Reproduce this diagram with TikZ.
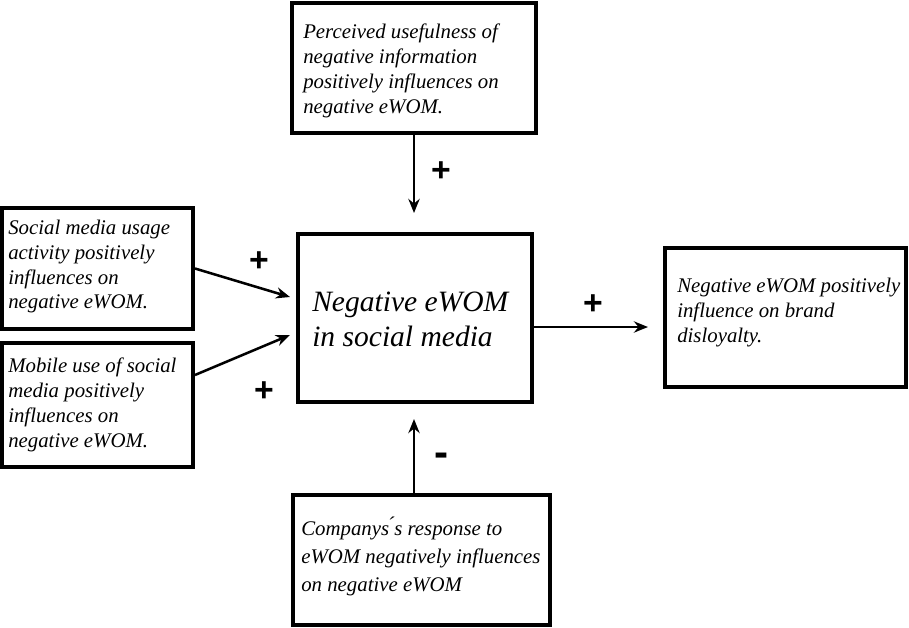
\documentclass[tikz,border=0pt]{standalone}
\usepackage{fontspec}
\setmainfont{Liberation Serif}
\newfontfamily\signfont{Liberation Sans}
\usetikzlibrary{arrows.meta, calc}
\tikzstyle{box} = [draw, line width=2.8pt, rectangle, inner sep=0pt]
\tikzstyle{txt} = [anchor=north west, inner sep=0pt, align=left, font=\fontsize{14.8}{17.6}\selectfont\itshape]
\tikzstyle{effect} = [line width=1.8pt, -{Stealth[length=10pt,width=8pt]}]
\tikzstyle{sign} = [font=\signfont\bfseries\fontsize{24}{24}\selectfont]

\begin{document}
\begin{tikzpicture}[x=0.025cm, y=-0.025cm]
\useasboundingbox (0,0) rectangle (909,627);
% boxes
\node[box, minimum width=6.1cm, minimum height=3.25cm] (useful) at (414,68) {};
\node[box, minimum width=4.775cm, minimum height=3.025cm] (usage) at (97.5,268.5) {};
\node[box, minimum width=4.775cm, minimum height=3.1cm] (mobile) at (97.5,405) {};
\node[box, minimum width=5.85cm, minimum height=4.2cm] (ewom) at (415,318) {};
\node[box, minimum width=6.025cm, minimum height=3.475cm] (disloyal) at (785.5,317.5) {};
\node[box, minimum width=6.425cm, minimum height=3.25cm] (response) at (421.5,560) {};
% texts
\node[txt] (usefultxt) at (303,24) {Perceived usefulness of\\negative information\\positively influences on\\negative eWOM.};
\node[txt] (usagetxt) at (8,220) {Social media usage\\activity positively\\influences on\\negative eWOM.};
\node[txt] (mobiletxt) at (8,358) {Mobile use of social\\media positively\\influences on\\negative eWOM.};
\node[txt, font=\fontsize{21}{25}\selectfont\itshape] (ewomtxt) at (312,292) {Negative eWOM\\in social media};
\node[txt] (disloyaltxt) at (677,278) {Negative eWOM positively\\influence on brand\\disloyalty.};
\node[txt, font=\fontsize{14.8}{19.8}\selectfont\itshape] (responsetxt) at (301,517) {Companys\'{}s response to\\eWOM negatively influences\\on negative eWOM};
% connectors
\coordinate (inA) at (290,297);
\coordinate (inB) at (290,335);
\coordinate (outR) at (648,327);
\draw[effect, shorten >=0.475cm] (useful.south) -- (useful.south |- ewom.north);
\draw[effect] (usage.east) -- (inA);
\draw[effect] ([yshift=0.75cm]mobile.east) -- (inB);
\draw[effect] (ewom.east |- outR) -- (outR);
\draw[effect, shorten >=0.375cm] (response.north -| useful.south) -- (ewom.south -| useful.south);
% signs
\node[sign] (p1) at (441,172) {+};
\node[sign] (p2) at (259,262) {+};
\node[sign] (p3) at (264,392) {+};
\node[sign] (p4) at (593,305) {+};
\node[sign, font=\signfont\bfseries\fontsize{30}{30}\selectfont] (m1) at (442,460) {-};
\end{tikzpicture}
\end{document}
